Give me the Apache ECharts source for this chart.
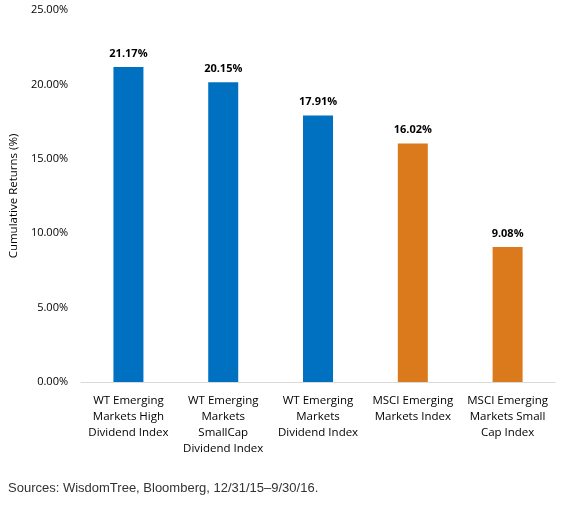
<!DOCTYPE html>
<html>
<head>
<meta charset="utf-8">
<script src="https://cdn.jsdelivr.net/npm/echarts@6/dist/echarts.min.js"></script>
<style>
  html, body { margin: 0; padding: 0; background: #fff; }
  #chart { width: 561px; height: 507px; }
</style>
</head>
<body>
<div id="chart"></div>
<script>
// index names, line breaks as in the source chart
const categories = [
  'WT Emerging\nMarkets High\nDividend Index',
  'WT Emerging\nMarkets\nSmallCap\nDividend Index',
  'WT Emerging\nMarkets\nDividend Index',
  'MSCI Emerging\nMarkets Index',
  'MSCI Emerging\nMarkets Small\nCap Index'
];
const returns = [21.17, 20.15, 17.91, 16.02, 9.08];
const barColors = ['#0070C0', '#0070C0', '#0070C0', '#DA7A1C', '#DA7A1C'];

const chart = echarts.init(document.getElementById('chart'));

const option = {
  animation: false,
  textStyle: { fontFamily: 'Open Sans' },
  grid: { left: 78, right: 6, top: 10, bottom: 125 },
  xAxis: {
    type: 'category',
    data: categories,
    axisTick: { show: false },
    axisLine: { lineStyle: { color: '#d9d9d9' } },
    axisLabel: {
      color: '#000',
      fontSize: 11.5,
      lineHeight: 16,
      margin: 11,
      interval: 0
    }
  },
  yAxis: {
    type: 'value',
    min: 0,
    max: 25,
    interval: 5,
    name: 'Cumulative Returns (%)',
    nameLocation: 'middle',
    nameGap: 60,
    nameTextStyle: { color: '#000', fontSize: 11.5 },
    splitLine: { show: false },
    axisLine: { show: false },
    axisTick: { show: false },
    axisLabel: {
      color: '#000',
      fontSize: 11,
      margin: 13,
      formatter: v => v.toFixed(2) + '%'
    }
  },
  series: [{
    type: 'bar',
    barWidth: 30,
    data: returns.map((v, i) => ({ value: v, itemStyle: { color: barColors[i] } })),
    label: {
      show: true,
      position: 'top',
      distance: 8,
      color: '#000',
      fontSize: 11,
      fontWeight: 'bold',
      formatter: p => p.value.toFixed(2) + '%'
    }
  }],
  graphic: [{
    type: 'text',
    left: 8,
    top: 482,
    style: {
      text: 'Sources: WisdomTree, Bloomberg, 12/31/15–9/30/16.',
      fill: '#333',
      font: '13px "Liberation Sans", Arial, sans-serif'
    }
  }]
};

chart.setOption(option);
</script>
</body>
</html>
